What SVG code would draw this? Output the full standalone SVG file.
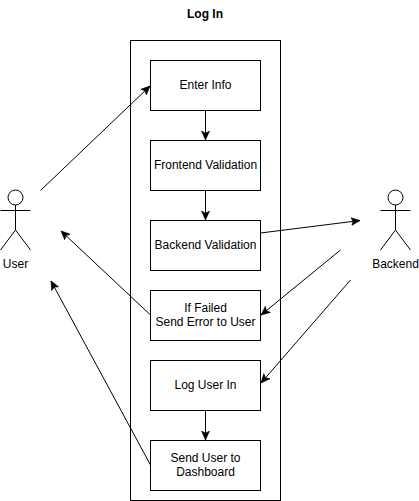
<svg xmlns="http://www.w3.org/2000/svg" width="419" height="501" viewBox="0 0 419 501">
<style>
.b{fill:#fff;stroke:#000;stroke-width:1}
.s{fill:none;stroke:#000;stroke-width:1}
text{font-family:"Liberation Sans",Arial,Helvetica,sans-serif;font-size:12px;fill:#000;text-anchor:middle}
</style>
<defs>
<marker id="a" markerUnits="userSpaceOnUse" markerWidth="12" markerHeight="10" refX="9" refY="4" orient="auto" viewBox="0 0 12 8">
<path d="M0 0L9 4L0 8L2.2 4Z" fill="#000" stroke="#000" stroke-width="0.6"/>
</marker>
</defs>
<rect width="419" height="501" fill="#fff"/>
<text id="title" x="205" y="18" font-weight="bold">Log In</text>
<rect id="boundary" class="b" x="130.5" y="40.5" width="150" height="460"/>
<g id="n1"><rect class="b" x="150.5" y="60.5" width="110" height="50"/><text x="205.5" y="89">Enter Info</text></g>
<g id="n2"><rect class="b" x="150.5" y="140.5" width="110" height="50"/><text x="205.5" y="169">Frontend Validation</text></g>
<g id="n3"><rect class="b" x="150.5" y="220.5" width="110" height="50"/><text x="205.5" y="249">Backend Validation</text></g>
<g id="n4"><rect class="b" x="150.5" y="290.5" width="110" height="50"/><text x="205.5" y="312">If Failed</text><text x="205.5" y="326">Send Error to User</text></g>
<g id="n5"><rect class="b" x="150.5" y="360.5" width="110" height="50"/><text x="205.5" y="389">Log User In</text></g>
<g id="n6"><rect class="b" x="150.5" y="440.5" width="110" height="50"/><text x="205.5" y="462">Send User to</text><text x="205.5" y="476">Dashboard</text></g>
<g id="user"><circle class="s" cx="15.5" cy="197.5" r="7.5"/><path class="s" d="M15.5 205V230M.5 210.500H30.500M.5 250L15.500 230L30.500 250"/><text x="15.500" y="268">User</text></g>
<g id="backend"><circle class="s" cx="395.500" cy="197.500" r="7.500"/><path class="s" d="M395.500 205V230M380.500 210.500H410.500M380.500 250L395.500 230L410.500 250"/><text x="395.500" y="268">Backend</text></g>
<g id="connectors" class="s" marker-end="url(#a)">
<path class="s" marker-end="url(#a)" d="M40.500 190.500L150 86"/>
<path class="s" marker-end="url(#a)" d="M205.500 110.500V140"/>
<path class="s" marker-end="url(#a)" d="M205.500 190.500V220"/>
<path class="s" marker-end="url(#a)" d="M260.500 233L360 220.500"/>
<path class="s" marker-end="url(#a)" d="M340.500 250L261 315"/>
<path class="s" marker-end="url(#a)" d="M350.500 280L261 383"/>
<path class="s" marker-end="url(#a)" d="M205.500 410.500V440"/>
<path class="s" marker-end="url(#a)" d="M150.500 315L61 231"/>
<path class="s" marker-end="url(#a)" d="M150.500 465L51 281"/>
</g>
</svg>
